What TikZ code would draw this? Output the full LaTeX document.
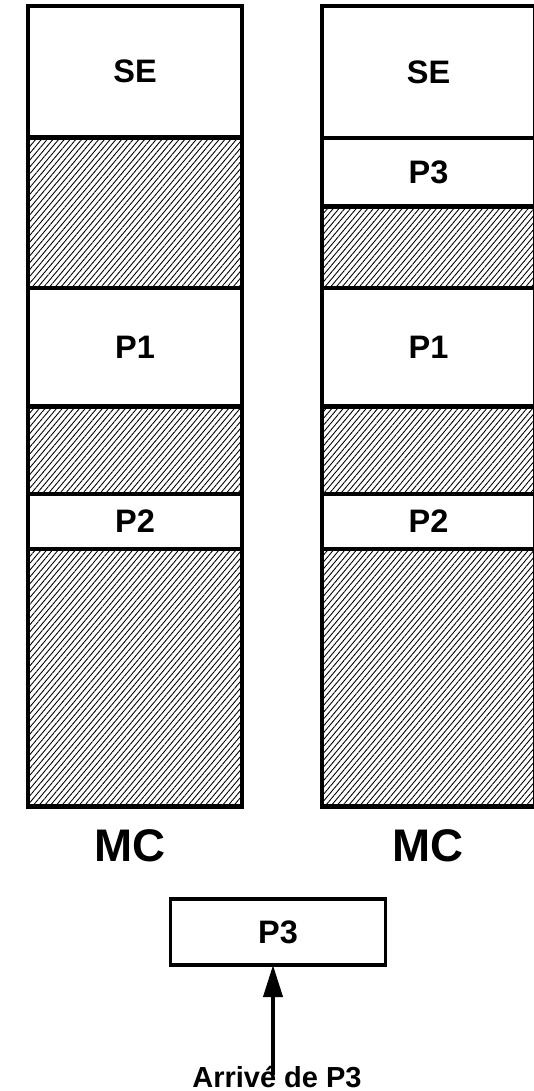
\documentclass[tikz,border=0pt]{standalone}
\usepackage{fontspec}
\setmainfont{Liberation Sans}
\usetikzlibrary{arrows.meta,positioning,patterns.meta}
\tikzset{
  mem/.style={draw=black, line width=2.4pt, inner sep=0pt, outer sep=0pt, align=center, font=\bfseries\fontsize{18.5}{22}\selectfont},
  leftmem/.style={mem, minimum width=4.28cm},
  rightmem/.style={mem, minimum width=4.26cm},
  hole/.style={pattern={Lines[angle=50,distance=2.5pt,line width=0.5pt]}},
  mctext/.style={font=\bfseries\fontsize{26}{30}\selectfont},
  arrow/.style={-{Triangle[length=6.4mm,width=3.8mm]}, line width=2.2pt, draw=black}
}
\begin{document}
\begin{tikzpicture}[x=0.2mm, y=-0.2mm]
  \useasboundingbox (0,0) rectangle (533,1091);
  % memoire avant l'arrivee
  \node[leftmem, minimum height=26.3mm, anchor=north] (seA) at (135,6) {SE};
  \node[leftmem, hole, minimum height=30.1mm, below=0pt of seA] (libA1) {};
  \node[leftmem, minimum height=23.7mm, below=0pt of libA1] (pA1) {P1};
  \node[leftmem, hole, minimum height=17.5mm, below=0pt of pA1] (libA2) {};
  \node[leftmem, minimum height=11mm, below=0pt of libA2] (pA2) {P2};
  \node[leftmem, hole, minimum height=51.5mm, below=0pt of pA2] (libA3) {};
  % memoire apres chargement de P3
  \node[rightmem, minimum height=26.4mm, anchor=north] (seB) at (428.5,6) {SE};
  \node[rightmem, minimum height=13.7mm, below=0pt of seB] (pB3) {P3};
  \node[rightmem, hole, minimum height=16.3mm, below=0pt of pB3] (libB1) {};
  \node[rightmem, minimum height=23.7mm, below=0pt of libB1] (pB1) {P1};
  \node[rightmem, hole, minimum height=17.5mm, below=0pt of pB1] (libB2) {};
  \node[rightmem, minimum height=11mm, below=0pt of libB2] (pB2) {P2};
  \node[rightmem, hole, minimum height=51.5mm, below=0pt of pB2] (libB3) {};
  \node[mctext] (mcA) at (130,846) {MC};
  \node[mctext] (mcB) at (428,846) {MC};
  % processus qui arrive
  \node[mem, minimum width=4.3cm, minimum height=13.2mm, line width=2pt] (newp) at (278,932) {P3};
  \node[font=\bfseries\fontsize{16.5}{19}\selectfont, anchor=base] (arr) at (277,1087) {Arrivé de P3};
  \coordinate (src) at (273,1075);
  \draw[arrow] (src) -- (src |- newp.south);
\end{tikzpicture}
\end{document}
